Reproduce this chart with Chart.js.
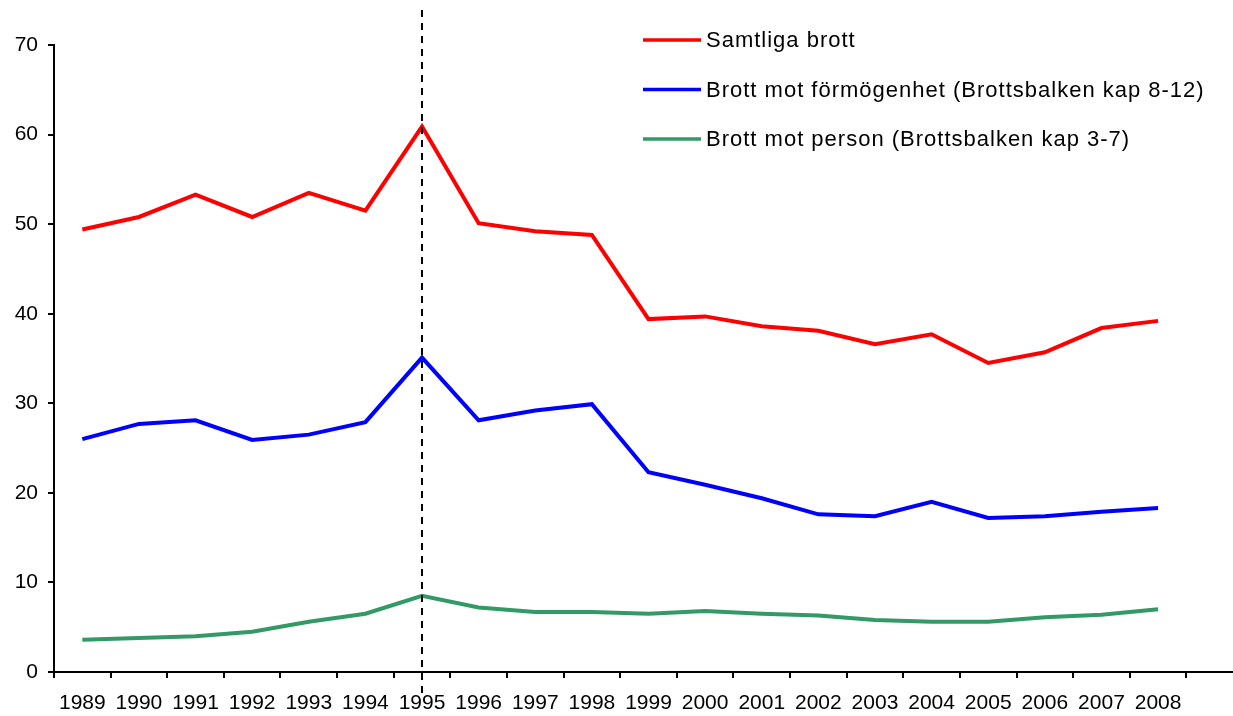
<!DOCTYPE html>
<html>
<head>
<meta charset="utf-8">
<script src="https://cdn.jsdelivr.net/npm/chart.js@4/dist/chart.umd.min.js"></script>
<style>
    html, body { margin: 0; padding: 0; background: #fff; overflow: hidden; }
    #wrap { width: 1260px; height: 716px; position: relative; }
</style>
</head>
<body>
<div id="wrap"><canvas id="crimeChart"></canvas></div>
<script>
// ─── Data ─────────────────────────────────────────────────────────────────
const years = ['1989', '1990', '1991', '1992', '1993', '1994', '1995', '1996', '1997', '1998',
               '1999', '2000', '2001', '2002', '2003', '2004', '2005', '2006', '2007', '2008', ''];

const samtliga    = [49.4, 50.8, 53.3, 50.8, 53.5, 51.5, 60.9, 50.1, 49.2, 48.8,
                     39.4, 39.7, 38.6, 38.1, 36.6, 37.7, 34.5, 35.7, 38.4, 39.2];
const formogenhet = [26.0, 27.7, 28.1, 25.9, 26.5, 27.9, 35.1, 28.1, 29.2, 29.9,
                     22.3, 20.9, 19.4, 17.6, 17.4, 19.0, 17.2, 17.4, 17.9, 18.3];
const person      = [3.6, 3.8, 4.0, 4.5, 5.6, 6.5, 8.5, 7.2, 6.7, 6.7,
                     6.5, 6.8, 6.5, 6.3, 5.8, 5.6, 5.6, 6.1, 6.4, 7.0];

const yTicks = [0, 10, 20, 30, 40, 50, 60, 70];
const markerYear = '1995';

const FONT = '"Liberation Sans", Arial, sans-serif';

// ─── Plugins ──────────────────────────────────────────────────────────────
// dashed vertical marker at 1995
const markerLine = {
    id: 'markerLine',
    afterDatasetsDraw(chart) {
        const x = Math.round(chart.scales.x.getPixelForValue(markerYear));
        const ctx = chart.ctx;
        ctx.save();
        ctx.strokeStyle = '#000';
        ctx.lineWidth = 2;
        ctx.setLineDash([7, 6]);
        ctx.beginPath();
        ctx.moveTo(x, 10);
        ctx.lineTo(x, 694);
        ctx.stroke();
        ctx.restore();
    }
};

// legend floating inside the plot, top right
const cornerLegend = {
    id: 'cornerLegend',
    afterDraw(chart) {
        const ctx = chart.ctx;
        chart.data.datasets.forEach((ds, i) => {
            const y = 40 + i * 49.5;
            ctx.save();
            ctx.strokeStyle = ds.borderColor;
            ctx.lineWidth = 3.5;
            ctx.beginPath();
            ctx.moveTo(643, y);
            ctx.lineTo(701, y);
            ctx.stroke();
            ctx.fillStyle = '#000';
            ctx.font = '22px ' + FONT;
            ctx.letterSpacing = '1px';
            ctx.textBaseline = 'middle';
            ctx.fillText(ds.label, 706, y + 1);
            ctx.restore();
        });
    }
};

function lineSet(label, data, color) {
    return {
        label: label,
        data: data,
        borderColor: color,
        backgroundColor: color,
        borderWidth: 4,
        pointRadius: 0,
        tension: 0,
        fill: false,
    };
}

// ─── Chart ────────────────────────────────────────────────────────────────
new Chart(document.getElementById('crimeChart'), {
    type: 'line',
    data: {
        labels: years,
        datasets: [
            lineSet('Samtliga brott', samtliga, '#ff0000'),
            lineSet('Brott mot förmögenhet (Brottsbalken kap 8-12)', formogenhet, '#0000ff'),
            lineSet('Brott mot person (Brottsbalken kap 3-7)', person, '#339966'),
        ],
    },
    options: {
        responsive: true,
        maintainAspectRatio: false,
        animation: false,
        layout: { padding: { top: 45, right: 17, left: 0, bottom: 0 } },
        plugins: {
            legend: { display: false },
            tooltip: { enabled: false },
        },
        scales: {
            x: {
                offset: true,
                grid: {
                    offset: true,
                    drawOnChartArea: false,
                    drawTicks: true,
                    tickLength: 6,
                    color: '#000',
                    lineWidth: 2,
                },
                border: { display: true, color: '#000', width: 2 },
                ticks: {
                    color: '#000',
                    font: { family: FONT, size: 21 },
                    padding: 13,
                    maxRotation: 0,
                    autoSkip: false,
                },
                afterFit(scale) { scale.height = 44; },
            },
            y: {
                min: 0,
                max: 70,
                afterBuildTicks(scale) { scale.ticks = yTicks.map(v => ({ value: v })); },
                grid: {
                    drawOnChartArea: false,
                    drawTicks: true,
                    tickLength: 6,
                    color: '#000',
                    lineWidth: 2,
                },
                border: { display: true, color: '#000', width: 2 },
                ticks: {
                    color: '#000',
                    font: { family: FONT, size: 21 },
                    padding: 10,
                },
                afterFit(scale) { scale.width = 54; },
            },
        },
    },
    plugins: [markerLine, cornerLegend],
});
</script>
</body>
</html>
